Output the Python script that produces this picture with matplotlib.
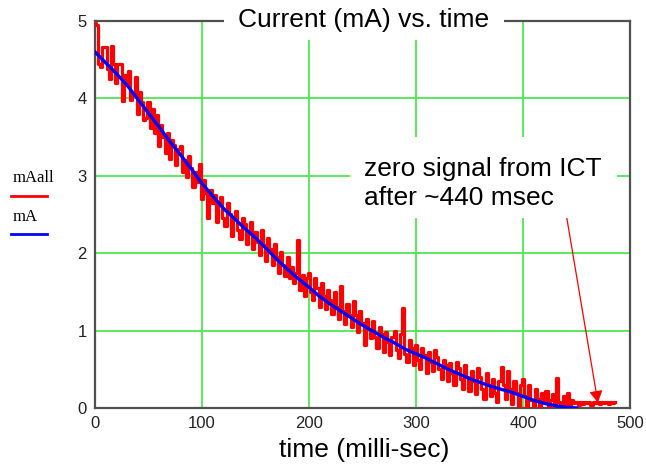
import matplotlib
matplotlib.use("Agg")
import matplotlib.pyplot as plt
from matplotlib.patches import Rectangle
from matplotlib.lines import Line2D

# muestras ruidosas (mAall), cada 2 ms
t_all = list(range(0, 488, 2))
mA_all = [4.98, 4.95, 4.45, 4.40, 4.66, 4.66, 4.38, 4.25, 4.68, 4.45,
          4.20, 4.45, 4.44, 3.96, 4.30, 4.18, 4.35, 3.98, 4.05, 4.28,
          3.80, 4.08, 3.95, 3.72, 3.75, 3.95, 3.62, 3.86, 3.55, 3.78,
          3.38, 3.65, 3.50, 3.30, 3.55, 3.22, 3.46, 3.40, 3.14, 3.35,
          3.38, 3.05, 3.20, 2.98, 3.25, 3.10, 2.85, 3.05, 2.92, 3.15,
          2.70, 2.95, 2.78, 2.45, 2.82, 2.65, 2.75, 2.40, 2.62, 2.72,
          2.46, 2.35, 2.65, 2.50, 2.22, 2.45, 2.55, 2.30, 2.18, 2.45,
          2.38, 2.12, 2.25, 2.40, 2.05, 2.28, 2.15, 1.98, 2.30, 2.10,
          1.90, 2.20, 2.05, 1.85, 2.12, 1.95, 1.75, 2.02, 1.85, 1.70,
          1.95, 1.68, 1.82, 1.62, 1.75, 2.17, 1.52, 1.72, 1.45, 1.68,
          1.75, 1.50, 1.40, 1.68, 1.55, 1.30, 1.62, 1.45, 1.28, 1.52,
          1.40, 1.22, 1.50, 1.30, 1.15, 1.57, 1.25, 1.08, 1.35, 1.20,
          1.05, 1.38, 1.20, 0.98, 1.25, 1.10, 0.81, 1.15, 1.02, 0.90,
          1.12, 0.92, 0.78, 1.05, 0.95, 0.72, 0.98, 0.85, 0.68, 0.92,
          1.00, 0.75, 0.65, 0.95, 1.29, 0.70, 0.60, 0.88, 0.78, 0.55,
          0.82, 0.62, 0.50, 0.78, 0.68, 0.45, 0.72, 0.60, 0.48, 0.75,
          0.66, 0.50, 0.38, 0.62, 0.55, 0.35, 0.58, 0.45, 0.30, 0.60,
          0.52, 0.38, 0.25, 0.55, 0.40, 0.22, 0.48, 0.35, 0.18, 0.52,
          0.40, 0.25, 0.12, 0.45, 0.30, 0.15, 0.38, 0.20, 0.08, 0.35,
          0.53, 0.30, 0.12, 0.48, 0.25, 0.05, 0.35, 0.20, 0.02, 0.30,
          0.38, 0.15, 0.03, 0.30, 0.10, 0.02, 0.25, 0.12, 0.02, 0.20,
          0.08, 0.22, 0.02, 0.10, 0.18, 0.03, 0.39, 0.08, 0.02, 0.15,
          0.05, 0.20, 0.03, 0.10, 0.06, 0.08, 0.04, 0.08, 0.05, 0.08,
          0.06, 0.08, 0.04, 0.08, 0.06, 0.08, 0.05, 0.08, 0.06, 0.08,
          0.05, 0.08, 0.06, 0.08]

# ajuste suave (mA), cada 10 ms
t_fit = list(range(0, 460, 10))
mA_fit = [4.60, 4.46, 4.32, 4.17, 3.99, 3.81, 3.63, 3.44, 3.27, 3.09,
          2.90, 2.74, 2.58, 2.45, 2.32, 2.20, 2.06, 1.92, 1.79, 1.67,
          1.56, 1.44, 1.34, 1.25, 1.16, 1.07, 0.99, 0.91, 0.84, 0.76,
          0.70, 0.64, 0.57, 0.50, 0.44, 0.38, 0.33, 0.28, 0.24, 0.20,
          0.15, 0.10, 0.06, 0.03, 0.01, 0.00]

x_ticks = [0, 100, 200, 300, 400, 500]
y_ticks = [0, 1, 2, 3, 4, 5]

W, H = 646, 469
fig = plt.figure(figsize=(W / 100, H / 100), dpi=100)
ax = fig.add_axes([95 / W, 1 - 408 / H, 535 / W, 387 / H])

verde = '#40e840'
ax.grid(True, color=verde, linewidth=1.2)
ax.set_axisbelow(True)
ax.plot(t_all, mA_all, color='#ff0000', linewidth=2.3, drawstyle='steps-mid', zorder=3)
ax.plot(t_fit, mA_fit, color='#0000ff', linewidth=2.4, zorder=4)

ax.set_xlim(0, 500)
ax.set_ylim(0, 5)
ax.set_xticks(x_ticks)
ax.set_yticks(y_ticks)
ticks_font = ['Liberation Sans Narrow', 'Liberation Sans']
ax.tick_params(length=0, pad=6, labelsize=12, labelcolor='#222222')
for lab in ax.get_xticklabels() + ax.get_yticklabels():
    lab.set_family(ticks_font)
for s in ax.spines.values():
    s.set_color('#505050')
    s.set_linewidth(1.6)

# flecha de la anotacion
ax.annotate('', xy=(470, 0.07), xytext=(441, 2.45),
            arrowprops=dict(arrowstyle='-|>,head_length=0.7,head_width=0.4',
                            color='#ff0000', linewidth=0.9, shrinkA=0, shrinkB=0),
            zorder=5)

# cajas blancas sobre la rejilla
fig.add_artist(Rectangle((224 / W, 1 - 40 / H), 280 / W, 40 / H,
                         transform=fig.transFigure, facecolor='white',
                         edgecolor='none', zorder=2))
fig.add_artist(Rectangle((350 / W, 1 - 218 / H), 267 / W, 81 / H,
                         transform=fig.transFigure, facecolor='white',
                         edgecolor='none', zorder=2))

sans = 'Liberation Sans'
fig.text(364 / W, 1 - 27 / H, 'Current (mA) vs. time', ha='center', va='baseline',
         fontsize=19, family=sans, zorder=3)
fig.text(364 / W, 1 - 176 / H, 'zero signal from ICT', ha='left', va='baseline',
         fontsize=19, family=sans, zorder=3)
fig.text(364 / W, 1 - 205 / H, 'after ~440 msec', ha='left', va='baseline',
         fontsize=19, family=sans, zorder=3)
fig.text(364 / W, 1 - 457 / H, 'time (milli-sec)', ha='center', va='baseline',
         fontsize=19, family=sans)

# leyenda estilo Mathcad
serif = 'Liberation Serif'
fig.text(13 / W, 1 - 182 / H, 'mAall', fontsize=12, family=serif, va='baseline')
fig.add_artist(Line2D([11 / W, 47 / W], [1 - 196 / H, 1 - 196 / H],
                      transform=fig.transFigure, color='#ff0000', linewidth=2))
fig.text(13 / W, 1 - 221 / H, 'mA', fontsize=12, family=serif, va='baseline')
fig.add_artist(Line2D([11 / W, 47 / W], [1 - 234 / H, 1 - 234 / H],
                      transform=fig.transFigure, color='#0000ff', linewidth=2))

fig.savefig('out.png', dpi=100)
